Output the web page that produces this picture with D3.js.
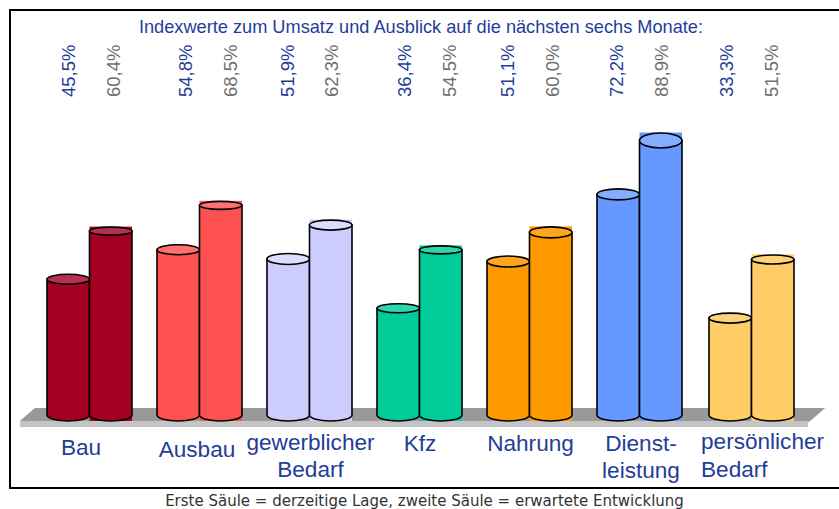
<!DOCTYPE html>
<html><head><meta charset="utf-8">
<script src="https://cdn.jsdelivr.net/npm/d3@7"></script>
<style>html,body{margin:0;padding:0;background:#fff;overflow:hidden}svg{display:block}text{font-family:"Liberation Sans",Arial,sans-serif}</style>
</head><body><svg id="c" width="839" height="509"></svg>
<script>
const categories = ["Bau","Ausbau","gewerblicher Bedarf","Kfz","Nahrung","Dienst- leistung","persönlicher Bedarf"];
const aktuell = [45.5,54.8,51.9,36.4,51.1,72.2,33.3];
const erwartet = [60.4,68.5,62.3,54.5,60.0,88.9,51.5];
const bodyColors = ["#a50021","#ff5050","#ccccff","#00cc99","#ff9900","#6699ff","#ffcc66"];
const capColors = ["#b5314d","#ff7070","#dcdcff","#2fd6ac","#ffa61f","#85adff","#ffd27a"];
const titleText = "Indexwerte zum Umsatz und Ausblick auf die nächsten sechs Monate:";
const footerText = "Erste Säule = derzeitige Lage, zweite Säule = erwartete Entwicklung";

const svg = d3.select("#c");
const blue = "#1f3d99", grey = "#6f6f6f";
const band = d3.scaleBand().domain(categories).range([47,792]).paddingInner(25/110).paddingOuter(0).align(0);
const y = d3.scaleLinear().domain([0,100]).range([424,106]);
const baseY = 415;
const fmt = v => v.toFixed(1).replace(".",",")+"%";
const capRy1 = [5,5,5.5,4.5,5.5,5.5,5], capRy2 = [4,4,5,4,5.5,7.5,4.5];

// frame
svg.append("rect").attr("x",10).attr("y",10).attr("width",840).attr("height",478)
  .attr("fill","#fff").attr("stroke","#000").attr("stroke-width",2);

// floor
svg.append("path").attr("d","M20,421L35,408L825,408L808,423L808,427L20,427Z").attr("fill","#c4c4c4");
svg.append("path").attr("d","M20,421L35,408L825,408L810,421Z").attr("fill","#999999");

function cyl(g,x,w,v,i,second){
  const t=y(v)-(second?0.8:0), rx=w/2, cx=x+rx;
  const ry = second?capRy2[i]:capRy1[i];
  if(second){
    g.append("rect").attr("x",x).attr("y",t-ry-0.5).attr("width",w).attr("height",421.5-t+ry).attr("fill",bodyColors[i]);
  }
  g.append("path").attr("d",`M${x},${t}L${x},${baseY}A${rx},6 0 0 0 ${x+w},${baseY}L${x+w},${t}Z`)
    .attr("fill",bodyColors[i]).attr("stroke","#000").attr("stroke-width",1.6);
  g.append("ellipse").attr("cx",cx).attr("cy",t).attr("rx",rx).attr("ry",ry)
    .attr("fill",capColors[i]).attr("stroke","#000").attr("stroke-width",1.6);
}
const w = band.bandwidth()/2;
categories.forEach((c,i)=>{
  const g=svg.append("g"), x0=band(c)+(i===6?2:0);
  cyl(g,x0,w,aktuell[i],i,false);
  cyl(g,x0+w,w,erwartet[i],i,true);
});

// title
svg.append("text").attr("x",421).attr("y",33).attr("text-anchor","middle").attr("font-size",18.2).attr("fill",blue).text(titleText);

// rotated values
const labelX1=[69,186,288,405,508,617,727], labelX2=[114,231,332,450,553,662,772];
const vLabel=(xs,vals,col)=>svg.append("g").selectAll("text").data(vals).join("text")
  .attr("transform",(d,i)=>`translate(${xs[i]+6},97) rotate(-90)`)
  .attr("font-size",18.5).attr("fill",col).text(fmt);
vLabel(labelX1,aktuell,blue);
vLabel(labelX2,erwartet,grey);

// category labels
const catLabels=[
 {l:["Bau"],x:81,a:"middle",y:[455]},
 {l:["Ausbau"],x:197,a:"middle",y:[457]},
 {l:["gewerblicher","Bedarf"],x:310.5,a:"middle",y:[450,477]},
 {l:["Kfz"],x:420,a:"middle",y:[451]},
 {l:["Nahrung"],x:530.5,a:"middle",y:[451]},
 {l:["Dienst-","leistung"],x:641,a:"middle",y:[451,478]},
 {l:["persönlicher","Bedarf"],x:701,a:"start",y:[449,477]}
];
catLabels.forEach(d=>d.l.forEach((s,k)=>svg.append("text").attr("x",d.x).attr("y",d.y[k])
  .attr("text-anchor",d.a).attr("font-size",22.6).attr("fill",blue).text(s)));

// footer
svg.append("text").attr("x",424.5).attr("y",505.5).attr("text-anchor","middle")
  .style("font-family","'DejaVu Sans',sans-serif").attr("font-size",15).attr("fill","#333").text(footerText);
</script></body></html>
